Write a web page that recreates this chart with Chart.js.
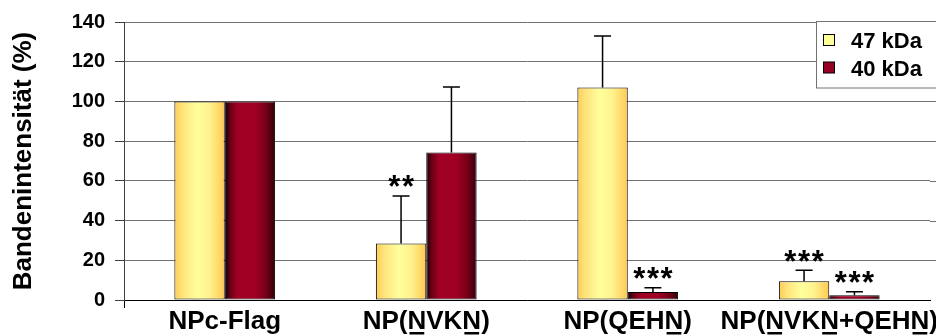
<!DOCTYPE html>
<html>
<head>
<meta charset="utf-8">
<script src="https://cdn.jsdelivr.net/npm/chart.js@4.4.1/dist/chart.umd.min.js"></script>
<style>
  html, body { margin: 0; padding: 0; background: #ffffff; }
  #wrap { width: 936px; height: 336px; position: relative; }
</style>
</head>
<body>
<div id="wrap"><canvas id="chart"></canvas></div>
<script>
// Band intensities relative to NPc-Flag (mean, upper SD)
const categories = ['NPc-Flag', 'NP(NVKN)', 'NP(QEHN)', 'NP(NVKN+QEHN)'];
// character positions that are underlined in each category label
const underlinedChars = [[], [3, 6], [6], [3, 6, 11]];
const seriesLabels = ['47 kDa', '40 kDa'];
const values47 = [100, 28.4, 107, 9.5];
const values40 = [100, 74.3, 4, 2.4];
const errors47 = [0, 24, 26, 5.5];
const errors40 = [0, 33, 2.2, 1.8];
const stars47 = ['', '**', '', '***'];
const stars40 = ['', '', '***', '***'];
const yMin = 0, yMax = 140, yStep = 20;

const FONT = '"Liberation Sans", Arial, sans-serif';
const CAT_PCT = 0.5, BAR_PCT = 1.0;
const FLAT = ['#FFF08A', '#A00025'];
const GRID = '#727272';

// horizontal "cylinder" shading across one bar
function shade(ctx, left, w, di) {
  const g = ctx.createLinearGradient(left, 0, left + w, 0);
  if (di === 0) {
    g.addColorStop(0, '#FFCB55');
    g.addColorStop(0.15, '#FFE27A');
    g.addColorStop(0.45, '#FFFF9C');
    g.addColorStop(0.7, '#FFF28E');
    g.addColorStop(1, '#FFC850');
  } else {
    g.addColorStop(0, '#100003');
    g.addColorStop(0.1, '#650015');
    g.addColorStop(0.25, '#A00025');
    g.addColorStop(0.6, '#A00023');
    g.addColorStop(0.82, '#740017');
    g.addColorStop(1, '#32000A');
  }
  return g;
}

// per-element colour (scriptable, so every bar keeps its own options object)
const flatFill = (c) => FLAT[c.datasetIndex];

const shadingPlugin = {
  id: 'shading',
  beforeDatasetsDraw(chart) {
    chart.data.datasets.forEach((ds, di) => {
      chart.getDatasetMeta(di).data.forEach((bar) => {
        const w = bar.width;
        bar.options.backgroundColor = shade(chart.ctx, bar.x - w / 2, w, di);
      });
    });
  }
};

// upper error whiskers and significance stars
const errorBarPlugin = {
  id: 'errorBars',
  afterDatasetsDraw(chart) {
    const ctx = chart.ctx, ys = chart.scales.y;
    const errs = [errors47, errors40];
    const stars = [stars47, stars40];
    chart.data.datasets.forEach((ds, di) => {
      const meta = chart.getDatasetMeta(di);
      meta.data.forEach((bar, i) => {
        const err = errs[di][i];
        let capY = bar.y;
        if (err > 0) {
          capY = ys.getPixelForValue(ds.data[i] + err);
          ctx.save();
          ctx.strokeStyle = '#000';
          ctx.lineWidth = 1.5;
          ctx.beginPath();
          ctx.moveTo(bar.x, bar.y);
          ctx.lineTo(bar.x, capY);
          ctx.moveTo(bar.x - 8.5, capY);
          ctx.lineTo(bar.x + 8.5, capY);
          ctx.stroke();
          ctx.restore();
        }
        const s = stars[di][i];
        if (s) {
          ctx.save();
          ctx.fillStyle = '#000';
          ctx.font = 'bold 31px ' + FONT;
          ctx.textAlign = 'center';
          ctx.textBaseline = 'alphabetic';
          const gap = 13.7;
          const x0 = bar.x - gap * (s.length - 1) / 2;
          for (let k = 0; k < s.length; k++) ctx.fillText('*', x0 + k * gap, capY + 1.5);
          ctx.restore();
        }
      });
    });
  }
};

// category labels with underlined residues, legend box, gridline run-out
const labelPlugin = {
  id: 'labels',
  afterDraw(chart) {
    const ctx = chart.ctx, xs = chart.scales.x, ys = chart.scales.y;
    const area = chart.chartArea;

    // gridlines continue to the right edge
    ctx.save();
    ctx.strokeStyle = GRID;
    ctx.lineWidth = 1;
    ys.ticks.forEach((t, i) => {
      if (i === 0) return;
      const y = Math.round(ys.getPixelForTick(i)) + 0.5;
      ctx.beginPath();
      ctx.moveTo(area.right, y);
      ctx.lineTo(chart.width, y);
      ctx.stroke();
    });
    ctx.restore();

    // category labels
    ctx.save();
    ctx.font = 'bold 26px ' + FONT;
    ctx.fillStyle = '#000';
    ctx.textAlign = 'left';
    ctx.textBaseline = 'alphabetic';
    categories.forEach((lab, i) => {
      const cx = xs.getPixelForValue(i);
      const w = ctx.measureText(lab).width;
      const x0 = cx - w / 2;
      const base = 329;
      ctx.fillText(lab, x0, base);
      underlinedChars[i].forEach(ci => {
        const pre = ctx.measureText(lab.slice(0, ci)).width;
        const cw = ctx.measureText(lab[ci]).width;
        ctx.fillRect(x0 + pre + 2, base + 3, cw - 4, 2.5);
      });
    });
    ctx.restore();

    // legend
    ctx.save();
    ctx.fillStyle = '#ffffff';
    ctx.strokeStyle = GRID;
    ctx.lineWidth = 1;
    ctx.fillRect(816.5, 21.5, 140, 66.5);
    ctx.strokeRect(816.5, 21.5, 140, 66.5);
    const swatch = ['#FFFF99', '#990026'];
    const rowY = [40, 67.5];
    ctx.font = 'bold 22px ' + FONT;
    ctx.textBaseline = 'alphabetic';
    chart.data.datasets.forEach((ds, di) => {
      ctx.fillStyle = swatch[di];
      ctx.fillRect(823.5, rowY[di] - 5.5, 11, 11);
      ctx.strokeStyle = '#000';
      ctx.strokeRect(823.5, rowY[di] - 5.5, 11, 11);
      ctx.fillStyle = '#000';
      ctx.fillText(ds.label, 851, rowY[di] + 8);
    });
    ctx.restore();
  }
};

new Chart(document.getElementById('chart'), {
  type: 'bar',
  data: {
    labels: categories,
    datasets: [
      { label: seriesLabels[0], data: values47, backgroundColor: flatFill,
        borderColor: '#000', borderWidth: 1, borderSkipped: false,
        categoryPercentage: CAT_PCT, barPercentage: BAR_PCT },
      { label: seriesLabels[1], data: values40, backgroundColor: flatFill,
        borderColor: '#000', borderWidth: 1, borderSkipped: false,
        categoryPercentage: CAT_PCT, barPercentage: BAR_PCT }
    ]
  },
  options: {
    responsive: true,
    maintainAspectRatio: false,
    animation: false,
    devicePixelRatio: 1,
    layout: { padding: { top: 21, right: 6, bottom: 0, left: 0 } },
    plugins: { legend: { display: false }, tooltip: { enabled: false } },
    scales: {
      x: {
        afterFit(s) { s.height = 36; },
        ticks: { display: false },
        grid: {
          display: true, drawOnChartArea: false, drawTicks: true, tickLength: 8,
          color: (c) => (c.index === 0 ? '#000' : 'rgba(0,0,0,0)')
        },
        border: { display: true, color: '#000', width: 1 }
      },
      y: {
        min: yMin, max: yMax,
        afterFit(s) { s.width = 124; },
        ticks: {
          stepSize: yStep, color: '#000', padding: 10,
          font: { family: FONT, size: 20, weight: 'bold' }
        },
        grid: { color: GRID, lineWidth: 1, tickLength: 9, tickColor: '#404040' },
        border: { display: true, color: '#404040', width: 1 },
        title: {
          display: true, text: 'Bandenintensität (%)', color: '#000',
          font: { family: FONT, size: 26, weight: 'bold' },
          padding: { top: 8, bottom: 0 }
        }
      }
    }
  },
  plugins: [shadingPlugin, errorBarPlugin, labelPlugin]
});
</script>
</body>
</html>
